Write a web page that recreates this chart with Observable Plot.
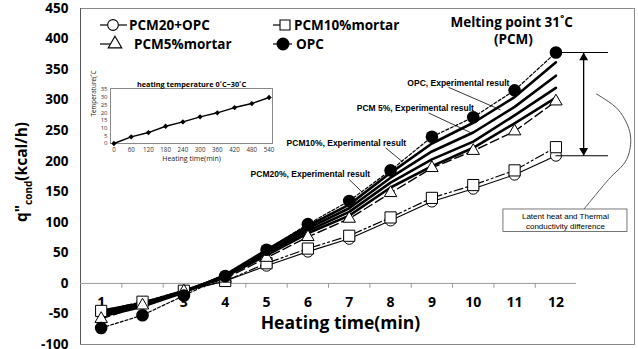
<!DOCTYPE html>
<html><head><meta charset="utf-8">
<script src="https://cdn.jsdelivr.net/npm/d3@7"></script>
<script src="https://cdn.jsdelivr.net/npm/@observablehq/plot@0.6"></script>
<style>
body{margin:0;background:#fff;}
#wrap{position:relative;width:638px;height:349px;overflow:hidden;}
#wrap > svg{position:absolute;}
</style></head><body><div id="wrap"></div>
<script>
// ---- data ----
const times = [1,2,3,4,5,6,7,8,9,10,11,12];
const opc   = [-73,-52,-20,12,55,97,135,185,240,272,316,378];
const pcm5  = [-58,-36,-13,8,42,76,106,148,189,217,249,298];
const pcm10 = [-45,-30,-12,4,33,57,78,108,140,161,185,223];
const pcm20 = [-48,-31,-13,4,29,52,73,103,134,155,178,209];
const sim1  = [-54,-38,-15,14,55,94,129,181,229,263,305,362];
const sim2  = [-51,-36,-14,13,52,90,123,173,216,247,289,340];
const sim3  = [-48,-34,-13,12,49,86,117,165,203,232,275,320];
const sim4  = [-45,-32,-12,11,46,82,111,157,192,222,262,304];
const yTicks = [-100,-50,0,50,100,150,200,250,300,350,400,450];
const legendLabels = ["PCM20+OPC","PCM10%mortar","PCM5%mortar","OPC"];
const expLabels = ["OPC, Experimental result","PCM 5%, Experimental result","PCM10%, Experimental result","PCM20%, Experimental result"];

const insetTimes = [0,60,120,180,240,300,360,420,480,540];
const insetTemp  = [0,4.3,7.1,11.2,14,17.3,19.9,23.3,25.9,29.8];
const insetYTicks = [0,5,10,15,20,25,30,35];

// ---- derived tables ----
const series = (vals) => times.map((t,i)=>({t, v: vals[i]}));
const sims = [sim1,sim2,sim3,sim4].flatMap((s,k)=>s.map((v,i)=>({t:times[i], v, k})));
const tickBounds = times.slice(1).map(t=>t-0.5);
const last = times.length-1;

// annotation placements (data coords)
const expAnn = [
  {text:expLabels[0], x:9.64, y:328, lx1:9.40, ly1:321, lx2:10.66, ly2:284},
  {text:expLabels[1], x:8.60, y:287, lx1:8.92, ly1:279, lx2:9.93, ly2:247},
  {text:expLabels[2], x:6.93, y:230, lx1:7.88, ly1:222, lx2:8.29, ly2:199},
  {text:expLabels[3], x:6.06, y:178, lx1:7.00, ly1:170, lx2:7.32, ly2:149}
];
const brace = [
  {x:12.98,y:310},{x:13.51,y:284},{x:13.80,y:243},{x:13.71,y:203},{x:13.27,y:170},{x:12.67,y:121}
];
const arrowX = 12.67, lineEndX = 13.27;

const wrap = document.getElementById("wrap");

const main = Plot.plot({
  width:638, height:349,
  marginLeft:80, marginRight:4, marginTop:8, marginBottom:5,
  x:{domain:[0.5,13.9], axis:null},
  y:{domain:[-100,450], axis:null},
  style:{fontFamily:"'Open Sans', sans-serif", background:"white", color:"black"},
  marks:[
    Plot.frame({stroke:"#8a8a8a"}),
    Plot.ruleX([0.5], {stroke:"#555"}),
    Plot.ruleY([0], {x1:0.5, x2:12.5, stroke:"#999"}),
    Plot.ruleX(tickBounds, {y1:0, y2:-8, stroke:"#999"}),
    Plot.text(times, {x:d=>d, y:0, dy:19, text:d=>String(d), fontSize:14, fontWeight:"bold"}),
    Plot.text(yTicks, {x:0.5, y:d=>d, dx:-12, text:d=>String(d), textAnchor:"end", fontSize:13.5, fontWeight:"bold"}),
    Plot.text(["Heating time(min)"], {frameAnchor:"bottom-left", dx:260, dy:-16, textAnchor:"middle", fontSize:17.5, fontWeight:"bold"}),
    // lines
    Plot.line(series(pcm20), {x:"t", y:"v", stroke:"black", strokeWidth:1.1}),
    Plot.line(series(pcm10), {x:"t", y:"v", stroke:"black", strokeWidth:1.2, strokeDasharray:"9,3,2,3,2,3"}),
    Plot.line(sims, {x:"t", y:"v", z:"k", stroke:"black", strokeWidth:2.6}),
    Plot.line(series(pcm5), {x:"t", y:"v", stroke:"black", strokeWidth:1.4, strokeDasharray:"9,4"}),
    Plot.line(series(opc), {x:"t", y:"v", stroke:"black", strokeWidth:1.2, strokeDasharray:"3,2"}),
    // markers
    Plot.dot(series(pcm20), {x:"t", y:"v", r:5.5, symbol:"circle", fill:"white", stroke:"black", strokeWidth:1}),
    Plot.dot(series(pcm10), {x:"t", y:"v", r:6.3, symbol:"square", fill:"white", stroke:"black", strokeWidth:1}),
    Plot.dot(series(pcm5), {x:"t", y:"v", r:4.6, symbol:"triangle", fill:"white", stroke:"black", strokeWidth:1}),
    Plot.dot(series(opc), {x:"t", y:"v", r:6.3, symbol:"circle", fill:"black"}),
    // experimental-result annotations
    Plot.link(expAnn, {x1:"lx1", y1:"ly1", x2:"lx2", y2:"ly2", stroke:"black", strokeWidth:0.8}),
    Plot.text(expAnn, {x:"x", y:"y", text:"text", fontSize:8.5, fontWeight:"bold", fontFamily:"'Liberation Sans', Arial, sans-serif"}),
    // melting point
    Plot.text(["Melting point 31˚C"], {x:10.93, y:427, fontSize:13.5, fontWeight:"bold"}),
    Plot.text(["(PCM)"], {x:10.97, y:399, fontSize:13.5, fontWeight:"bold"}),
    // difference arrow
    Plot.ruleY([opc[last], pcm20[last]], {x1:times[last], x2:lineEndX, stroke:"black", strokeWidth:1.1}),
    Plot.ruleX([arrowX], {y1:pcm20[last], y2:opc[last], stroke:"black", strokeWidth:1.3}),
    Plot.dot([opc[last]], {x:arrowX, y:d=>d, dy:5.2, symbol:"triangle", r:3.3, fill:"black"}),
    Plot.dot([pcm20[last]], {x:arrowX, y:d=>d, dy:-5.2, symbol:"triangle", rotate:180, r:3.3, fill:"black"}),
    Plot.line(brace, {x:"x", y:"y", curve:"catmull-rom", stroke:"#555", strokeWidth:1}),
    Plot.rect([0], {x1:10.73, x2:13.73, y1:84, y2:121, fill:"white", stroke:"#555", strokeWidth:0.8}),
    Plot.text(["Latent heat and Thermal\nconductivity difference"], {x:12.23, y:102.5, fontSize:8, lineHeight:1.2, fontFamily:"'Liberation Sans', Arial, sans-serif", style:{letterSpacing:"0.5px"}})
  ]
});
wrap.appendChild(main);

// y-axis title with subscript, and legend
const svg = d3.select(main);
const yt = svg.append("text")
  .attr("transform","translate(27,172) rotate(-90)")
  .attr("text-anchor","middle")
  .attr("font-family","'Open Sans', sans-serif")
  .attr("font-weight","bold").attr("font-size",15.5).attr("fill","black");
yt.append("tspan").text('q"');
yt.append("tspan").attr("font-size",10).attr("dy",5).text("cond");
yt.append("tspan").attr("dy",-5).text("(kcal/h)");

const leg = [
  {label:legendLabels[0], sym:d3.symbolCircle, fill:"white", lx1:100, lx2:127, sx:113, tx:129, y:25, size:90},
  {label:legendLabels[1], sym:d3.symbolSquare, fill:"white", lx1:273, lx2:282, sx:285, tx:294, y:25, size:100},
  {label:legendLabels[2], sym:d3.symbolTriangle, fill:"white", lx1:100, lx2:110, sx:115, tx:134, y:44, size:80},
  {label:legendLabels[3], sym:d3.symbolCircle, fill:"black", lx1:273, lx2:292, sx:283, tx:296, y:44, size:110}
];
const lg = svg.append("g").attr("font-family","'Open Sans', sans-serif").attr("font-weight","bold").attr("font-size",13.5);
for (const d of leg) {
  lg.append("line").attr("x1",d.lx1).attr("x2",d.lx2).attr("y1",d.y).attr("y2",d.y).attr("stroke","black").attr("stroke-width",1.2);
  lg.append("path").attr("d", d3.symbol(d.sym, d.size)()).attr("transform",`translate(${d.sx},${d.y})`)
    .attr("fill",d.fill).attr("stroke","black").attr("stroke-width",1.1);
  lg.append("text").attr("x",d.tx).attr("y",d.y).attr("dy","0.35em").attr("text-anchor","start").attr("fill","black").text(d.label);
}

// inset chart
const inset = Plot.plot({
  width:216, height:99,
  marginLeft:50, marginRight:4, marginTop:19, marginBottom:26,
  x:{domain:[-12,552], axis:null},
  y:{domain:[0,35], axis:null},
  style:{fontFamily:"'Open Sans', sans-serif", background:"transparent", color:"black"},
  marks:[
    Plot.frame({stroke:"#8a8a8a", insetTop:-1}),
    Plot.text(insetYTicks, {x:-12, y:d=>d, dx:-3, text:d=>String(d), textAnchor:"end", fontSize:6, fill:"#333"}),
    Plot.text(insetTimes, {x:d=>d, y:0, dy:7, text:d=>String(d), fontSize:6.2, fill:"#333"}),
    Plot.text(["Heating time(min)"], {frameAnchor:"bottom", dy:17, fontSize:7, fill:"#222"}),
    Plot.text(["Temperature(˚C)"], {frameAnchor:"left", dx:-17, rotate:-90, fontSize:6.3, fill:"#222"}),
    Plot.text(["heating temperature 0˚C~30˚C"], {frameAnchor:"top", dy:-8, fontSize:7.3, fontWeight:"bold"}),
    Plot.line(insetTimes.map((t,i)=>({t, v:insetTemp[i]})), {x:"t", y:"v", stroke:"black", strokeWidth:1.4}),
    Plot.dot(insetTimes.map((t,i)=>({t, v:insetTemp[i]})), {x:"t", y:"v", symbol:"diamond2", r:2.4, fill:"black"})
  ]
});
inset.style.left = "60px";
inset.style.top = "70px";
wrap.appendChild(inset);
</script>
</body></html>
